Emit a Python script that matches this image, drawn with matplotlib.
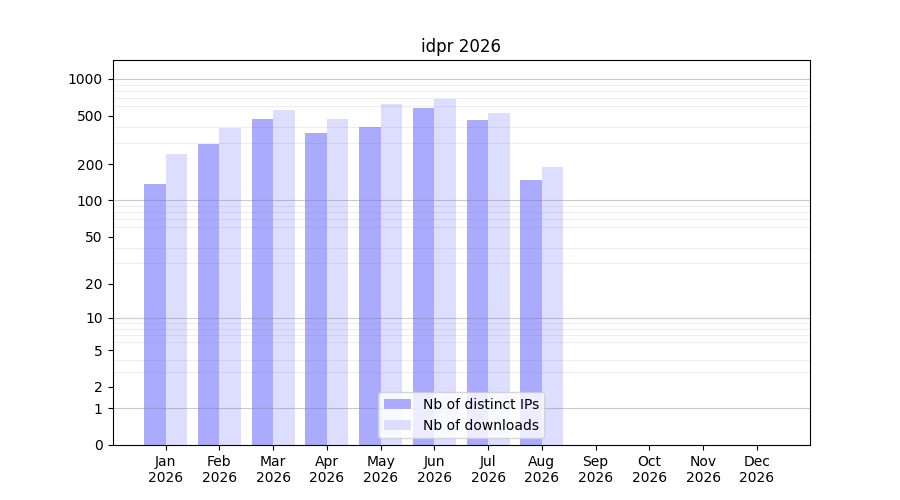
import numpy as np
import matplotlib
matplotlib.use('Agg')
import matplotlib.pyplot as plt
from matplotlib.ticker import FixedLocator, NullFormatter

months = ['Jan', 'Feb', 'Mar', 'Apr', 'May', 'Jun', 'Jul', 'Aug', 'Sep', 'Oct', 'Nov', 'Dec']
year = 2026
distinct_ips = [137, 293, 470, 360, 404, 578, 461, 148, 0, 0, 0, 0]
downloads = [243, 396, 557, 470, 623, 685, 526, 189, 0, 0, 0, 0]
ytick_values = [0, 1, 2, 5, 10, 20, 50, 100, 200, 500, 1000]


def fwd(y):
    return np.log10(1 + np.maximum(y, 0))


def inv(y):
    return 10 ** y - 1


fig, ax = plt.subplots(figsize=(9, 5), dpi=100)
x = np.arange(len(months))
w = 0.4
ax.bar(x - w / 2, distinct_ips, width=w, color='#aaaaff', label='Nb of distinct IPs')
ax.bar(x + w / 2, downloads, width=w, color='#ddddff', label='Nb of downloads')

ax.set_yscale('function', functions=(fwd, inv))
ax.set_ylim(0, 1430)
ax.yaxis.set_major_locator(FixedLocator(ytick_values))
ax.set_yticklabels([str(v) for v in ytick_values])
minor = [m * 10 ** d for d in range(0, 4) for m in range(2, 10) if m * 10 ** d < 1430]
ax.yaxis.set_minor_locator(FixedLocator(minor))
ax.yaxis.set_minor_formatter(NullFormatter())
ax.tick_params(axis='y', which='minor', length=0)
ax.grid(True, which='minor', axis='y', color='#888888', alpha=0.15, linewidth=0.8)
for d in [1, 10, 100, 1000]:
    ax.axhline(d, color='#888888', alpha=0.45, linewidth=0.8)

ax.set_xticks(x)
ax.set_xticklabels([f'{m}\n{year}' for m in months])
ax.set_title(f'idpr {year}')
ax.legend(loc='lower center')

plt.savefig('out.png')
